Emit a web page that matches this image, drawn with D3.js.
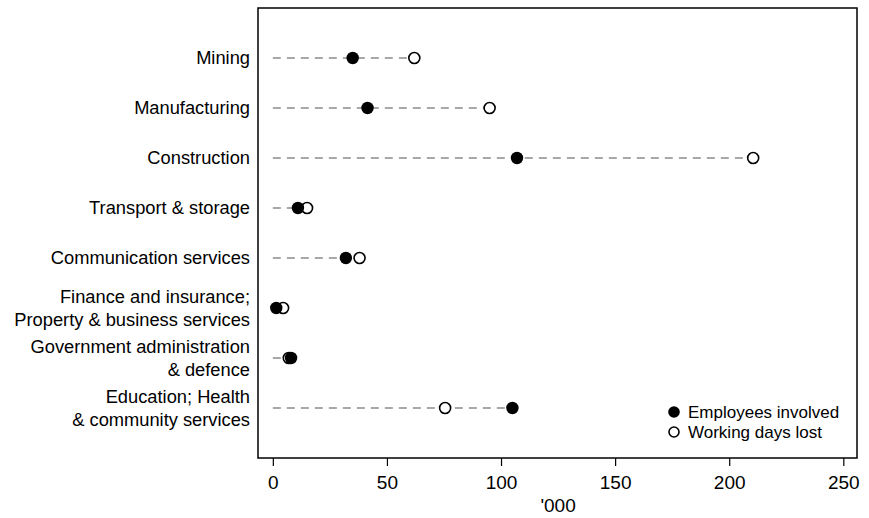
<!DOCTYPE html>
<html>
<head>
<meta charset="utf-8">
<script src="https://cdn.jsdelivr.net/npm/d3@7"></script>
<style>
  body { margin: 0; background: #fff; }
  text { font-family: "Liberation Sans", Arial, sans-serif; fill: #000; }
</style>
</head>
<body>
<svg id="chart" width="869" height="518"></svg>
<script>
// industries, top to bottom (multi-line labels split on "|")
const industries = [
  "Mining",
  "Manufacturing",
  "Construction",
  "Transport & storage",
  "Communication services",
  "Finance and insurance;|Property & business services",
  "Government administration|& defence",
  "Education; Health|& community services"
];
const employeesInvolved = [35, 41.5, 107, 11, 32, 1.5, 8, 105];
const workingDaysLost = [62, 95, 210.5, 15, 38, 4.5, 7, 75.5];
const xTicks = [0, 50, 100, 150, 200, 250];

const svg = d3.select("#chart");
const plotL = 258, plotR = 857, plotT = 8, plotB = 458;

const x = d3.scaleLinear().domain([-6.5, 256]).range([plotL, plotR]);
const y = d3.scalePoint().domain(industries).range([58, 408]);

// frame
svg.append("rect").attr("x", plotL).attr("y", plotT)
  .attr("width", plotR - plotL).attr("height", plotB - plotT)
  .attr("fill", "none").attr("stroke", "#000").attr("stroke-width", 1.5);

// dashed guide lines from zero to the larger value
const rows = industries.map((d, i) => ({
  name: d, emp: employeesInvolved[i], days: workingDaysLost[i]
}));
svg.selectAll("line.guide").data(rows).enter().append("line")
  .attr("class", "guide")
  .attr("x1", x(0)).attr("x2", d => x(Math.max(d.emp, d.days)))
  .attr("y1", d => y(d.name)).attr("y2", d => y(d.name))
  .attr("stroke", "#8c8c8c").attr("stroke-width", 1.5)
  .attr("stroke-dasharray", "8,6");

// open circles: working days lost
svg.selectAll("circle.days").data(rows).enter().append("circle")
  .attr("cx", d => x(d.days)).attr("cy", d => y(d.name)).attr("r", 5.5)
  .attr("fill", "#fff").attr("stroke", "#000").attr("stroke-width", 1.6);

// filled circles: employees involved
svg.selectAll("circle.emp").data(rows).enter().append("circle")
  .attr("cx", d => x(d.emp)).attr("cy", d => y(d.name)).attr("r", 6.2)
  .attr("fill", "#000");

// category labels
const labels = svg.selectAll("text.cat").data(industries).enter().append("text")
  .attr("text-anchor", "end").attr("font-size", 18.3)
  .attr("transform", d => `translate(250,${y(d)})`);
labels.each(function (d) {
  const parts = d.split("|");
  const t = d3.select(this);
  parts.forEach((p, j) => {
    t.append("tspan").attr("x", 0)
      .attr("y", (j - (parts.length - 1) / 2) * 22.5)
      .attr("dy", "0.35em").text(p);
  });
});

// x axis
const xAxis = d3.axisBottom(x).tickValues(xTicks).tickSize(8).tickPadding(10);
const gx = svg.append("g").attr("transform", `translate(0,${plotB})`).call(xAxis);
gx.select(".domain").remove();
gx.selectAll(".tick line").attr("stroke", "#000").attr("stroke-width", 1.2);
gx.selectAll(".tick text").attr("font-size", 19).attr("font-family", "Liberation Sans, Arial, sans-serif");

svg.append("text").attr("x", x(125)).attr("y", 512)
  .attr("text-anchor", "middle").attr("font-size", 19).text("'000");

// legend
const legend = [
  { label: "Employees involved", filled: true },
  { label: "Working days lost", filled: false }
];
const lg = svg.selectAll("g.leg").data(legend).enter().append("g")
  .attr("transform", (d, i) => `translate(674,${412 + i * 20})`);
lg.append("circle").attr("r", d => d.filled ? 5.8 : 5)
  .attr("fill", d => d.filled ? "#000" : "#fff")
  .attr("stroke", "#000").attr("stroke-width", d => d.filled ? 0 : 1.6);
lg.append("text").attr("x", 14).attr("dy", "0.35em").attr("font-size", 17)
  .text(d => d.label);
</script>
</body>
</html>
